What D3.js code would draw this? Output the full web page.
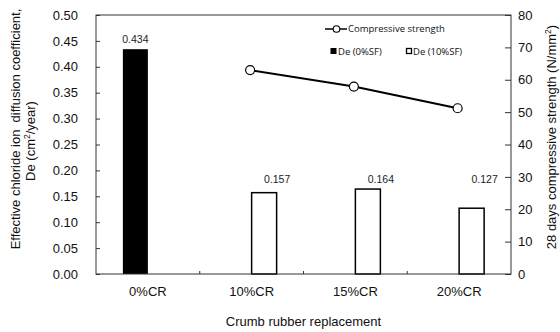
<!DOCTYPE html>
<html>
<head>
<meta charset="utf-8">
<script src="https://cdn.jsdelivr.net/npm/d3@7"></script>
<style>
  body { margin: 0; background: #fff; }
  svg { display: block; font-family: "Liberation Sans", Arial, sans-serif; }
</style>
</head>
<body>
<div id="chart"></div>
<script>
// values
var categories = ["0%CR", "10%CR", "15%CR", "20%CR"]
var de0SF = [0.434, null, null, null]
var de10SF = [null, 0.157, 0.164, 0.127]
var strength = [null, 63.0, 57.9, 51.2]
var leftTicks = [0, 0.05, 0.10, 0.15, 0.20, 0.25, 0.30, 0.35, 0.40, 0.45, 0.50]
var rightTicks = [0, 10, 20, 30, 40, 50, 60, 70, 80]

var width = 560
var height = 332
var margin = {top: 15, right: 49, bottom: 58, left: 96}

var svg = d3.select("#chart").append("svg")
  .attr("width", width)
  .attr("height", height)

var x = d3.scaleBand()
  .domain(categories)
  .range([margin.left, width - margin.right])

var bw = 25
var x1 = d3.scaleBand()
  .domain(["0%SF", "10%SF"])
  .range([x.bandwidth() / 2 - bw, x.bandwidth() / 2 + bw])

var y = d3.scaleLinear().domain([0, 0.5]).range([height - margin.bottom, margin.top])
var y2 = d3.scaleLinear().domain([0, 80]).range([height - margin.bottom, margin.top])

// bars
var bars0 = categories.map((c, i) => ({c: c, v: de0SF[i]})).filter(d => d.v != null)
var bars10 = categories.map((c, i) => ({c: c, v: de10SF[i]})).filter(d => d.v != null)

svg.append("g").selectAll("rect")
  .data(bars0)
  .join("rect")
    .attr("x", d => x(d.c) + x1("0%SF"))
    .attr("y", d => y(d.v))
    .attr("width", x1.bandwidth())
    .attr("height", d => y(0) - y(d.v))
    .attr("fill", "#000")

svg.append("g").selectAll("rect")
  .data(bars10)
  .join("rect")
    .attr("x", d => x(d.c) + x1("10%SF"))
    .attr("y", d => y(d.v))
    .attr("width", x1.bandwidth())
    .attr("height", d => y(0) - y(d.v))
    .attr("fill", "#fff")
    .attr("stroke", "#000")
    .attr("stroke-width", 1.5)

// value labels
svg.append("g")
  .attr("font-size", 10.5)
  .attr("fill", "#222")
  .attr("text-anchor", "middle")
  .selectAll("text")
  .data(bars0)
  .join("text")
    .attr("x", d => x(d.c) + x1("0%SF") + x1.bandwidth() / 2)
    .attr("y", d => y(d.v) - 6)
    .text(d => d.v.toFixed(3))

svg.append("g")
  .attr("font-size", 10.5)
  .attr("fill", "#222")
  .attr("text-anchor", "middle")
  .selectAll("text")
  .data(bars10)
  .join("text")
    .attr("x", d => x(d.c) + x1("10%SF") + x1.bandwidth() / 2 + 13)
    .attr("y", d => Math.min(y(d.v) - 6, 183))
    .text(d => d.v.toFixed(3))

// frame
svg.append("rect")
  .attr("x", margin.left)
  .attr("y", margin.top)
  .attr("width", width - margin.right - margin.left)
  .attr("height", height - margin.bottom - margin.top)
  .attr("fill", "none")
  .attr("stroke", "#333")
  .attr("stroke-width", 1)

// axes
var gl = svg.append("g")
  .attr("transform", `translate(${margin.left},0)`)
  .call(d3.axisLeft(y).tickValues(leftTicks).tickFormat(d3.format(".2f")).tickSizeInner(-4).tickSizeOuter(0).tickPadding(18))
gl.select(".domain").remove()

var gr = svg.append("g")
  .attr("transform", `translate(${width - margin.right},0)`)
  .call(d3.axisRight(y2).tickValues(rightTicks).tickSizeInner(-6).tickSizeOuter(0).tickPadding(7))
gr.select(".domain").remove()

var gb = svg.append("g")
  .attr("transform", `translate(0,${height - margin.bottom})`)
  .call(d3.axisBottom(x).tickSize(0).tickPadding(13))
gb.select(".domain").remove()

// category boundary ticks
svg.append("g")
  .selectAll("line")
  .data(categories.slice(1))
  .join("line")
    .attr("x1", d => x(d))
    .attr("x2", d => x(d))
    .attr("y1", y(0))
    .attr("y2", y(0) - 3)
    .attr("stroke", "#333")

svg.selectAll(".tick text")
  .attr("font-size", 13)
  .attr("font-family", "Liberation Sans, Arial, sans-serif")
  .attr("fill", "#111")
svg.selectAll(".tick line").attr("stroke", "#333")

// line series
var pts = categories.map((c, i) => ({c: c, v: strength[i]})).filter(d => d.v != null)
svg.append("path")
  .datum(pts)
  .attr("fill", "none")
  .attr("stroke", "#000")
  .attr("stroke-width", 2)
  .attr("d", d3.line().x(d => x(d.c) + x.bandwidth() / 2 - 1.5).y(d => y2(d.v)))

svg.append("g").selectAll("circle")
  .data(pts)
  .join("circle")
    .attr("cx", d => x(d.c) + x.bandwidth() / 2 - 1.5)
    .attr("cy", d => y2(d.v))
    .attr("r", 4.5)
    .attr("fill", "#fff")
    .attr("stroke", "#000")
    .attr("stroke-width", 1.2)

// legend
var leg = svg.append("g")
  .attr("font-family", "Open Sans, sans-serif")
  .attr("font-size", 9.5)
  .attr("fill", "#111")
leg.append("line")
  .attr("x1", 325).attr("x2", 347).attr("y1", 29).attr("y2", 29)
  .attr("stroke", "#000").attr("stroke-width", 1.5)
leg.append("circle")
  .attr("cx", 336.5).attr("cy", 29).attr("r", 3.3)
  .attr("fill", "#fff").attr("stroke", "#000").attr("stroke-width", 1.1)
leg.append("text").attr("x", 348).attr("y", 32.4).text("Compressive strength")
leg.append("rect")
  .attr("x", 330.5).attr("y", 48).attr("width", 6).attr("height", 6)
  .attr("fill", "#000")
leg.append("text").attr("x", 338).attr("y", 54.5).text("De (0%SF)")
leg.append("rect")
  .attr("x", 406.5).attr("y", 48.5).attr("width", 5).attr("height", 5)
  .attr("fill", "#fff").attr("stroke", "#000").attr("stroke-width", 1.3)
leg.append("text").attr("x", 413).attr("y", 54.5).text("De (10%SF)")

// axis titles
var t1 = svg.append("text")
  .attr("transform", "translate(20,129) rotate(-90)")
  .attr("text-anchor", "middle")
  .attr("font-size", 13)
  .attr("fill", "#111")
  .text("Effective chloride ion  diffusion coefficient,")
t1.style("white-space", "pre")

var t2 = svg.append("text")
  .attr("transform", "translate(35,141) rotate(-90)")
  .attr("text-anchor", "middle")
  .attr("font-size", 13)
  .attr("fill", "#111")
t2.append("tspan").text("De (cm")
t2.append("tspan").attr("font-size", 8.5).attr("dy", -5).text("2")
t2.append("tspan").attr("dy", 5).text("/year)")

var t3 = svg.append("text")
  .attr("transform", "translate(556,137) rotate(-90)")
  .attr("text-anchor", "middle")
  .attr("font-size", 13)
  .attr("fill", "#111")
t3.append("tspan").text("28 days compressive strength (N/mm")
t3.append("tspan").attr("font-size", 8.5).attr("dy", -5).text("2")
t3.append("tspan").attr("dy", 5).text(")")

svg.append("text")
  .attr("x", (margin.left + width - margin.right) / 2)
  .attr("y", 326)
  .attr("text-anchor", "middle")
  .attr("font-size", 13)
  .attr("fill", "#111")
  .text("Crumb rubber replacement")
</script>
</body>
</html>
